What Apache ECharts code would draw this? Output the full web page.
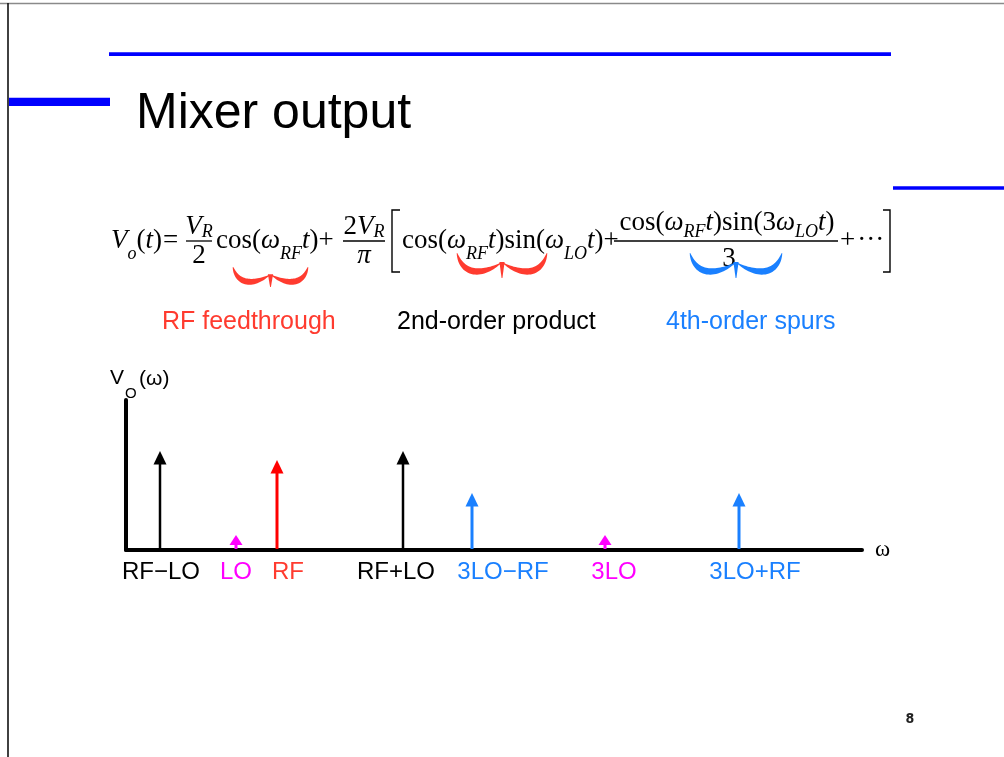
<!DOCTYPE html>
<html><head><meta charset="utf-8">
<script src="https://cdn.jsdelivr.net/npm/echarts@6/dist/echarts.min.js"></script>
<style>html,body{margin:0;padding:0;background:#fff}#c{width:1004px;height:757px}</style>
</head><body><div id="c"></div>
<script>
// ---- data (diagram units along ω, relative amplitude) ----
const freqLabels = ['RF\u2212LO', 'LO', 'RF', 'RF+LO', '3LO\u2212RF', '3LO', '3LO+RF'];
const freqPos    = [34, 110, 151, 277, 346, 479, 613];
const amplitudes = [0.66, 0.10, 0.60, 0.66, 0.38, 0.10, 0.38];
const labelPos   = [35, 110, 162, 270, 377, 488, 629];
const toneKind   = ['product', 'lo', 'rf', 'product', 'spur', 'lo', 'spur'];
const termCaptions = ['RF feedthrough', '2nd-order product', '4th-order spurs'];
const captionKind  = ['rf', 'product', 'spur'];
const titleText = 'Mixer output';
const pageNumber = '8';

// ---- styles ----
const KIND = {
  product: { color: '#000000', label: '#000000', width: 2.5 },
  rf:      { color: '#ff0000', label: '#ff3b2f', width: 3 },
  lo:      { color: '#ff00ff', label: '#ff00ff', width: 3 },
  spur:    { color: '#1a80ff', label: '#1a80ff', width: 3 }
};
const SANS = '"Liberation Sans", Arial, Helvetica, sans-serif';
const SERIF = '"Liberation Serif", "Times New Roman", Times, serif';

// ---- equation layout helpers ----
const ctx = document.createElement('canvas').getContext('2d');
const MAIN = 27, SUB = 18;
const N = t => ({ t, it: false });
const I = t => ({ t, it: true });
const S = t => ({ t, it: true, sub: true });
function fontOf(r) { const s = r.sub ? SUB : MAIN; return (r.it ? 'italic ' : '') + s + 'px ' + SERIF; }
function widthOf(runs) { let w = 0; runs.forEach(r => { ctx.font = fontOf(r); w += ctx.measureText(r.t).width + (r.gap || 0); }); return w; }
function lay(runs, x, baseline, subDrop, out, color) {
  let cx = x;
  runs.forEach(r => {
    const size = r.sub ? SUB : MAIN;
    ctx.font = fontOf(r);
    const w = ctx.measureText(r.t).width;
    const b = baseline + (r.sub ? subDrop : 0);
    out.push({ type: 'text', x: cx, y: b - 0.34 * size, silent: true,
      style: { text: r.t, font: fontOf(r), fill: color || '#000', align: 'left', verticalAlign: 'middle' } });
    cx += w + (r.gap || 0);
  });
  return cx;
}
function layCentered(runs, cx, baseline, subDrop, out) { return lay(runs, cx - widthOf(runs) / 2, baseline, subDrop, out); }
function bar(x1, x2, y, out) { out.push({ type: 'line', silent: true, shape: { x1, y1: y, x2, y2: y }, style: { stroke: '#000', lineWidth: 1.3 } }); }

function bracePolys(x0, x1, yTop, yBot, thick, color, out) {
  const xm = (x0 + x1) / 2, w = xm - x0, H = yBot - yTop;
  [1, -1].forEach(dir => {
    const sx = dir === 1 ? x0 : x1;
    const P = [[sx, yTop], [sx + dir * 0.12 * w, yTop + 0.9 * H], [xm - dir * 0.45 * w, yTop + 0.9 * H], [xm - dir * 0.04 * w, yTop + 0.42 * H]];
    const bz = t => { const u = 1 - t; return [0, 1].map(k => u*u*u*P[0][k] + 3*u*u*t*P[1][k] + 3*u*t*t*P[2][k] + t*t*t*P[3][k]); };
    const up = [], dn = [];
    const n = 30;
    for (let i = 0; i <= n; i++) {
      const t = i / n;
      const p = bz(t), q = bz(Math.min(1, t + 0.01)), p0 = bz(Math.max(0, t - 0.01));
      let dx = q[0] - p0[0], dy = q[1] - p0[1]; const L = Math.hypot(dx, dy) || 1; dx /= L; dy /= L;
      const th = (0.5 + thick * Math.pow(Math.sin(Math.PI * Math.min(t, 0.97)), 0.8)) / 2;
      up.push([p[0] - dy * th, p[1] + dx * th]); dn.push([p[0] + dy * th, p[1] - dx * th]);
    }
    out.push({ type: 'polygon', silent: true, shape: { points: up.concat(dn.reverse()) }, style: { fill: color } });
  });
  out.push({ type: 'polygon', silent: true, shape: { points: [[xm - 2.6, yTop + 0.36 * H], [xm + 2.6, yTop + 0.36 * H], [xm + 0.4, yBot], [xm - 0.4, yBot]] }, style: { fill: color } });
}

const eq = [];
// V_o(t) =
lay([I('V'), S('o'), N('('), I('t'), { t: ')', it: false, gap: 1 }, { t: '=', it: false }], 111, 250, 10, eq);
// V_R / 2
layCentered([I('V'), S('R')], 199, 236, 2, eq); bar(186, 212, 241, eq); layCentered([N('2')], 199, 265, 0, eq);
// cos(ω_RF t) +
lay([N('cos('), I('ω'), S('RF'), I('t'), N(')'), N('+')], 216, 250, 10, eq);
// 2V_R / π
layCentered([N('2'), I('V'), S('R')], 364, 236, 2, eq); bar(343, 385, 241, eq); layCentered([I('π')], 364, 265, 0, eq);
// [
eq.push({ type: 'polyline', silent: true, shape: { points: [[400, 210], [392, 210], [392, 272], [400, 272]] }, style: { stroke: '#000', lineWidth: 1.4, fill: null } });
// cos(ω_RF t) sin(ω_LO t) +
lay([N('cos('), I('ω'), S('RF'), I('t'), N(')'), N('sin('), I('ω'), S('LO'), I('t'), N(')'), N('+')], 402, 250, 10, eq);
// cos(ω_RF t) sin(3ω_LO t) / 3
layCentered([N('cos('), I('ω'), S('RF'), I('t'), N(')'), N('sin(3'), I('ω'), S('LO'), I('t'), N(')')], 727, 232, 6, eq);
bar(614, 838, 241, eq); layCentered([N('3')], 729, 268, 0, eq);
// + ···
lay([{ t: '+', it: false, gap: 2 }, N('···')], 840, 250, 0, eq);
// ]
eq.push({ type: 'polyline', silent: true, shape: { points: [[883, 210], [890, 210], [890, 272], [883, 272]] }, style: { stroke: '#000', lineWidth: 1.4, fill: null } });
// braces
bracePolys(233, 308, 267, 287, 5.5, KIND.rf.label, eq);
bracePolys(457, 547, 253, 278, 6, KIND.rf.label, eq);
bracePolys(690, 782, 253, 278, 6, KIND.spur.label, eq);

const captionX = [162, 397, 666];
const captions = termCaptions.map((t, i) => ({ type: 'text', x: captionX[i], y: 322, silent: true,
  style: { text: t, font: '25px ' + SANS, fill: KIND[captionKind[i]].label, align: 'left', verticalAlign: 'middle' } }));

const deco = [
  { type: 'line', silent: true, shape: { x1: 0, y1: 3.5, x2: 1004, y2: 3.5 }, style: { stroke: '#8a8a8a', lineWidth: 1.5 } },
  { type: 'line', silent: true, shape: { x1: 8, y1: 3, x2: 8, y2: 757 }, style: { stroke: '#111', lineWidth: 1.6 } },
  { type: 'rect', silent: true, shape: { x: 109, y: 52.3, width: 782, height: 3.6 }, style: { fill: '#0000ff' } },
  { type: 'rect', silent: true, shape: { x: 9, y: 97.8, width: 101, height: 8.2 }, style: { fill: '#0000ff' } },
  { type: 'rect', silent: true, shape: { x: 893, y: 186.3, width: 111, height: 3.4 }, style: { fill: '#0000ff' } },
  { type: 'text', x: 136, y: 114.7, silent: true, style: { text: titleText, font: '50px ' + SANS, fill: '#000', align: 'left', verticalAlign: 'middle' } },
  { type: 'text', x: 910, y: 719, silent: true, style: { text: pageNumber, font: 'bold 14px "DejaVu Sans Condensed", ' + SANS, fill: '#222', align: 'center', verticalAlign: 'middle' } },
  { type: 'text', x: 110, y: 378, silent: true, style: { text: 'V', font: '21px ' + SANS, fill: '#000', align: 'left', verticalAlign: 'middle' } },
  { type: 'text', x: 125, y: 394, silent: true, style: { text: 'O', font: '15px ' + SANS, fill: '#000', align: 'left', verticalAlign: 'middle' } },
  { type: 'text', x: 139, y: 379, silent: true, style: { text: '(\u03c9)', font: '21px ' + SANS, fill: '#000', align: 'left', verticalAlign: 'middle' } }
];

const chart = echarts.init(document.getElementById('c'), null, { renderer: 'canvas' });
chart.setOption({
  animation: false,
  backgroundColor: '#ffffff',
  grid: { left: 126, right: 142, top: 400, bottom: 207 },
  xAxis: {
    type: 'value', min: 0, max: 736,
    axisLine: { show: true, lineStyle: { color: '#000', width: 4 } },
    axisTick: { show: false }, axisLabel: { show: false }, splitLine: { show: false },
    name: 'ω', nameLocation: 'end', nameGap: 13,
    nameTextStyle: { fontFamily: SERIF, fontSize: 23, color: '#000', verticalAlign: 'middle', padding: [8, 0, 0, 0] }
  },
  yAxis: {
    type: 'value', min: 0, max: 1,
    axisLine: { show: true, lineStyle: { color: '#000', width: 4 } },
    axisTick: { show: false }, axisLabel: { show: false }, splitLine: { show: false }
  },
  graphic: { elements: deco.concat(eq, captions) },
  series: [{
    type: 'custom',
    clip: false,
    data: freqPos.map((p, i) => [p, amplitudes[i], labelPos[i]]),
    renderItem: function (params, api) {
      const i = params.dataIndex;
      const k = KIND[toneKind[i]];
      const base = api.coord([api.value(0), 0]);
      const tip = api.coord([api.value(0), api.value(1)]);
      const h = base[1] - tip[1];
      const headH = Math.min(13.5, h - 5), headW = 13;
      const lp = api.coord([api.value(2), 0]);
      return {
        type: 'group',
        children: [
          { type: 'line', shape: { x1: base[0], y1: base[1] - 1, x2: tip[0], y2: tip[1] + headH - 1 }, style: { stroke: k.color, lineWidth: k.width } },
          { type: 'polygon', shape: { points: [[tip[0], tip[1]], [tip[0] - headW / 2, tip[1] + headH], [tip[0] + headW / 2, tip[1] + headH]] }, style: { fill: k.color } },
          { type: 'text', x: lp[0], y: lp[1] + 22, style: { text: freqLabels[i], font: '24px ' + SANS, fill: k.label, align: 'center', verticalAlign: 'middle' } }
        ]
      };
    }
  }]
});
</script>
</body></html>
